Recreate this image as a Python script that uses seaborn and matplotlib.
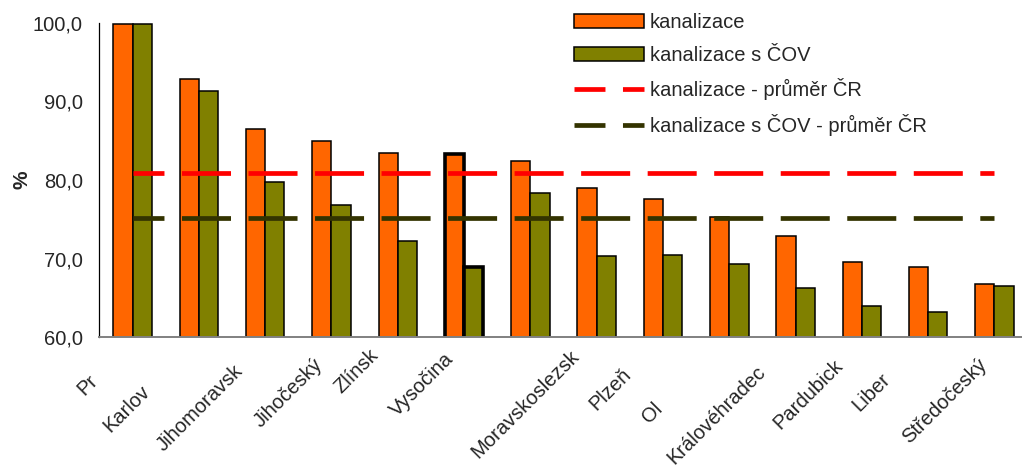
import numpy as np
import pandas as pd
import matplotlib
matplotlib.use('Agg')
import matplotlib.pyplot as plt
import seaborn as sns

# kraje serazene podle podilu obyvatel napojenych na kanalizaci
kraje = ['Praha', 'Karlovarský', 'Jihomoravský', 'Jihočeský', 'Zlínský', 'Vysočina',
         'Moravskoslezský', 'Plzeňský', 'Olomoucký', 'Ústecký', 'Královéhradecký',
         'Pardubický', 'Liberecký', 'Středočeský']
# popisky osy x tak, jak jsou v puvodnim grafu (oriznute)
popisky = ['Pr', 'Karlov', 'Jihomoravsk', 'Jihočeský', 'Zlínsk', 'Vysočina',
           'Moravskoslezsk', 'Plzeň', 'Ol', '', 'Královéhradec', 'Pardubick',
           'Liber', 'Středočeský']
kanalizace = [99.8, 92.8, 86.5, 85.0, 83.5, 83.3, 82.4, 79.0, 77.6, 75.3, 72.9, 69.6, 68.9, 66.8]
kanalizace_cov = [99.8, 91.3, 79.8, 76.8, 72.2, 69.0, 78.3, 70.4, 70.5, 69.3, 66.3, 64.0, 63.2, 66.5]
prumer_kanalizace = 80.9
prumer_cov = 75.2
yticks = [60, 70, 80, 90, 100]
zvyrazneny = 'Vysočina'

# posun popisku (v pixelech) od stredu kategorie
posun_x = [-45, -59, -32, -19, -29, -20, 39, 25, -10, 0, -40, -29, -48, -17]
posun_y = [-34, -44, -24, -17, -8, -12, -9, -27, -62, 0, -25, -18, -32, -18]

sns.set_style('white')
plt.rcParams['font.family'] = ['Liberation Sans', 'DejaVu Sans']
plt.rcParams['lines.scale_dashes'] = False

df = pd.DataFrame({
    'kraj': kraje * 2,
    'hodnota': kanalizace + kanalizace_cov,
    'ukazatel': ['kanalizace'] * len(kraje) + ['kanalizace s ČOV'] * len(kraje),
})

fig = plt.figure(figsize=(10.22, 4.75), dpi=100)
ax = fig.add_axes([0.0973, 0.2895, 0.9082, 0.6627])

sns.barplot(data=df, x='kraj', y='hodnota', hue='ukazatel', order=kraje,
            palette=['#FF6600', '#808000'], saturation=1, width=0.58, gap=0,
            edgecolor='black', linewidth=1.1, ax=ax, legend=False)

# zvyrazneni kraje Vysocina silnejsim okrajem
idx = kraje.index(zvyrazneny)
for cont in ax.containers:
    cont[idx].set_linewidth(2.6)

n = len(kraje)
pozice = np.arange(n)
l1 = ax.plot(pozice, [prumer_kanalizace] * n, color='#FF0000', lw=3.4,
             linestyle=(13.0, (35.3, 12.6)), dash_capstyle='butt',
             label='kanalizace - průměr ČR')[0]
l2 = ax.plot(pozice, [prumer_cov] * n, color='#333300', lw=3.4,
             linestyle=(13.0, (35.3, 12.6)), dash_capstyle='butt',
             label='kanalizace s ČOV - průměr ČR')[0]

ax.set_xlim(-0.5, n - 0.5)
ax.set_ylim(60, 100)
ax.set_yticks(yticks)
ax.set_yticklabels([f'{v:.1f}'.replace('.', ',') for v in yticks], fontsize=14.5)
ax.set_ylabel('%', fontsize=15, fontweight='bold', labelpad=1)
ax.set_xlabel('')

ax.set_xticks(pozice)
ax.set_xticklabels([''] * n)
ax.set_xticks(np.arange(n + 1) - 0.5, minor=True)
ax.tick_params(axis='x', which='major', length=0)
ax.tick_params(axis='x', which='minor', length=5, width=1, color='#606060', direction='out')
ax.tick_params(axis='y', length=5, width=1, color='#606060', direction='out', pad=7)

for s in ['top', 'right']:
    ax.spines[s].set_visible(False)
ax.spines['left'].set_color('black')
ax.spines['left'].set_linewidth(0.9)
ax.spines['bottom'].set_color('#808080')
ax.spines['bottom'].set_linewidth(1.4)

for i, txt in enumerate(popisky):
    if not txt:
        continue
    ax.annotate(txt, xy=(i, 0), xycoords=ax.get_xaxis_transform(),
                xytext=(posun_x[i], posun_y[i]), textcoords='offset pixels',
                rotation=45, rotation_mode='anchor', ha='right', va='top',
                fontsize=14.5)

handles = [ax.containers[0], ax.containers[1], l1, l2]
labels = ['kanalizace', 'kanalizace s ČOV', 'kanalizace - průměr ČR',
          'kanalizace s ČOV - průměr ČR']
fig.legend(handles, labels, loc='upper left', bbox_to_anchor=(574 / 1022, 1 - 13 / 475),
           frameon=False, fontsize=14.5, borderpad=0, borderaxespad=0,
           handlelength=3.5, handleheight=0.7, handletextpad=0.25, labelspacing=0.68)

fig.savefig('out.png', dpi=100)
